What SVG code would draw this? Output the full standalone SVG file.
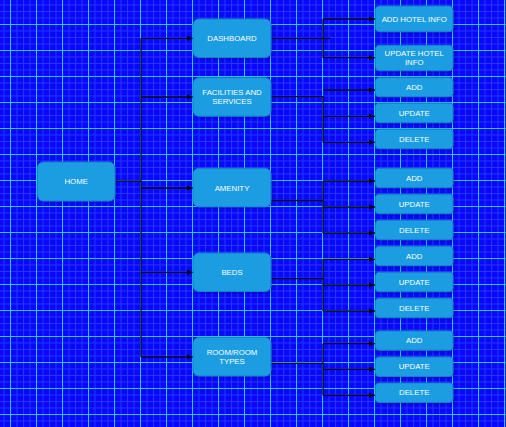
<svg xmlns="http://www.w3.org/2000/svg" width="506" height="427" viewBox="0 0 506 427">
<style>
.n rect{fill:#1c9de1;stroke:#1583c6;stroke-width:1;filter:url(#sh)}
.n text{fill:#ffffff;font-family:"Liberation Sans",Arial,sans-serif;font-size:7.8px;text-anchor:middle;dominant-baseline:central}
.e path{fill:none;stroke:#080818;stroke-width:1.3;marker-end:url(#ah)}
.e path.p{marker-end:none}
</style>
<defs>
<pattern id="minor" patternUnits="userSpaceOnUse" x="10" y="24" width="6.5" height="6.5">
<path d="M0.5,0V6.5M0,0.5H6.5" stroke="#3a5cff" stroke-width="1" fill="none" opacity="0.55"/>
</pattern>
<pattern id="major" patternUnits="userSpaceOnUse" x="10" y="24" width="26" height="26">
<path d="M0.5,0V26M0,0.5H26" stroke="#2cc6f0" stroke-width="1" fill="none"/>
</pattern>
<marker id="ah" markerWidth="6" markerHeight="6" refX="6" refY="3" orient="auto" markerUnits="userSpaceOnUse">
<path d="M0,0.4L6,3L0,5.6z" fill="#080818"/>
</marker>
<filter id="sh" x="-10%" y="-10%" width="130%" height="140%">
<feDropShadow dx="1.5" dy="1.5" stdDeviation="1" flood-color="#000" flood-opacity="0.2"/>
</filter>
</defs>
<rect width="506" height="427" fill="#0a08fb"/>
<rect width="506" height="427" fill="url(#minor)"/>
<rect width="506" height="427" fill="url(#major)"/>

<g class="e" id="connectors">
<path class="p" d="M115,181H141"/>
<path class="p" d="M141,38V357"/>
<path d="M141,38.3H193"/>
<path d="M141,97H193"/>
<path d="M141,188H193"/>
<path d="M141,272.3H193"/>
<path d="M141,357H193"/>

<path class="p" d="M271,38.3H330"/>
<path class="p" d="M323,19V58"/>
<path d="M323,19H375"/>
<path d="M323,57.7H375"/>

<path class="p" d="M271,96.7H323V142.3"/>
<path d="M323,90H375"/>
<path d="M323,116.3H375"/>
<path d="M323,142.3H375"/>

<path class="p" d="M271,200.5H323"/>
<path class="p" d="M323,181V233"/>
<path d="M323,181H375"/>
<path d="M323,207H375"/>
<path d="M323,233H375"/>

<path class="p" d="M271,278.7H323"/>
<path class="p" d="M323,259.3V311"/>
<path d="M323,259.3H375"/>
<path d="M323,285H375"/>
<path d="M323,311H375"/>

<path class="p" d="M271,363.3H323"/>
<path class="p" d="M323,343.7V395.3"/>
<path d="M323,343.7H375"/>
<path d="M323,369.3H375"/>
<path d="M323,395.3H375"/>
</g>

<g class="n" id="home"><rect x="37.5" y="162" width="77.5" height="39" rx="6"/><text x="76.2" y="181.5">HOME</text></g>
<g class="n" id="dashboard"><rect x="193" y="19" width="78" height="38.5" rx="6"/><text x="232" y="38.3">DASHBOARD</text></g>
<g class="n" id="facilities"><rect x="193" y="77.7" width="78" height="38.5" rx="6"/><text x="232" y="92.5">FACILITIES AND</text><text x="232" y="101.5">SERVICES</text></g>
<g class="n" id="amenity"><rect x="193" y="168.3" width="78" height="38.5" rx="6"/><text x="232" y="188">AMENITY</text></g>
<g class="n" id="beds"><rect x="193" y="253" width="78" height="38.5" rx="6"/><text x="232" y="272.3">BEDS</text></g>
<g class="n" id="room"><rect x="193" y="337.5" width="78" height="38.5" rx="6"/><text x="232" y="352.5">ROOM/ROOM</text><text x="232" y="361.5">TYPES</text></g>

<g class="n" id="add-hotel-info"><rect x="375.5" y="6" width="77.5" height="25.7" rx="4"/><text x="414.2" y="19">ADD HOTEL INFO</text></g>
<g class="n" id="update-hotel-info"><rect x="375.5" y="45.3" width="77.5" height="25.4" rx="4"/><text x="414.2" y="53.5">UPDATE HOTEL</text><text x="414.2" y="62.3">INFO</text></g>

<g class="n" id="fac-add"><rect x="375.5" y="77.7" width="77.5" height="19" rx="3.5"/><text x="414.2" y="87.2">ADD</text></g>
<g class="n" id="fac-update"><rect x="375.5" y="103.3" width="77.5" height="19.4" rx="3.5"/><text x="414.2" y="113">UPDATE</text></g>
<g class="n" id="fac-delete"><rect x="375.5" y="129.3" width="77.5" height="19.4" rx="3.5"/><text x="414.2" y="139">DELETE</text></g>

<g class="n" id="amen-add"><rect x="375.5" y="168.3" width="77.5" height="19.4" rx="3.5"/><text x="414.2" y="178">ADD</text></g>
<g class="n" id="amen-update"><rect x="375.5" y="194.3" width="77.5" height="19.4" rx="3.5"/><text x="414.2" y="204">UPDATE</text></g>
<g class="n" id="amen-delete"><rect x="375.5" y="220.3" width="77.5" height="19.4" rx="3.5"/><text x="414.2" y="230">DELETE</text></g>

<g class="n" id="beds-add"><rect x="375.5" y="246.3" width="77.5" height="19.4" rx="3.5"/><text x="414.2" y="256">ADD</text></g>
<g class="n" id="beds-update"><rect x="375.5" y="272.3" width="77.5" height="19.4" rx="3.5"/><text x="414.2" y="282">UPDATE</text></g>
<g class="n" id="beds-delete"><rect x="375.5" y="298.3" width="77.5" height="19.4" rx="3.5"/><text x="414.2" y="308">DELETE</text></g>

<g class="n" id="room-add"><rect x="375.5" y="331" width="77.5" height="19.2" rx="3.5"/><text x="414.2" y="340.6">ADD</text></g>
<g class="n" id="room-update"><rect x="375.5" y="357" width="77.5" height="19.4" rx="3.5"/><text x="414.2" y="366.7">UPDATE</text></g>
<g class="n" id="room-delete"><rect x="375.5" y="383" width="77.5" height="19.4" rx="3.5"/><text x="414.2" y="392.7">DELETE</text></g>
</svg>
